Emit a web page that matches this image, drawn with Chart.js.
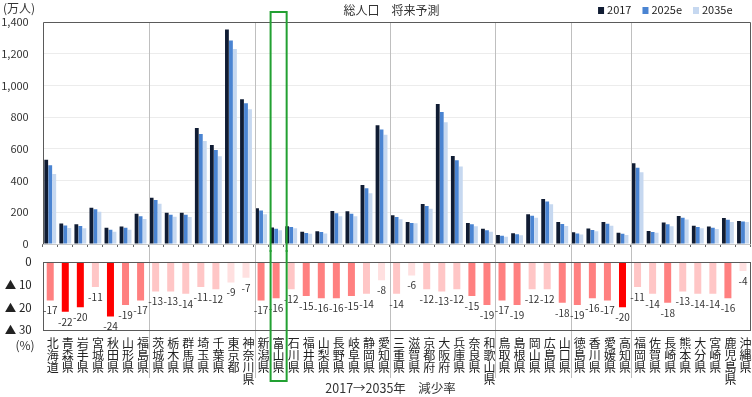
<!DOCTYPE html>
<html lang="ja">
<head>
<meta charset="UTF-8">
<title>総人口 将来予測</title>
<script src="https://cdn.jsdelivr.net/npm/chart.js"></script>
<style>
  body { margin: 0; background: #fff; }
  #wrap { position: relative; width: 752px; height: 397px; }
  #popChart { position: absolute; left: 0; top: 0; }
  #rateChart { position: absolute; left: 0; top: 250px; }
</style>
</head>
<body>
<div id="wrap">
  <canvas id="popChart" width="752" height="252"></canvas>
  <canvas id="rateChart" width="752" height="147"></canvas>
</div>
<script>
const prefectures = ['北海道','青森県','岩手県','宮城県','秋田県','山形県','福島県',
  '茨城県','栃木県','群馬県','埼玉県','千葉県','東京都','神奈川県',
  '新潟県','富山県','石川県','福井県','山梨県','長野県','岐阜県','静岡県','愛知県',
  '三重県','滋賀県','京都府','大阪府','兵庫県','奈良県','和歌山県',
  '鳥取県','島根県','岡山県','広島県','山口県',
  '徳島県','香川県','愛媛県','高知県',
  '福岡県','佐賀県','長崎県','熊本県','大分県','宮崎県','鹿児島県','沖縄県'];

// 総人口（万人）
const pop2017 = [532,130,125,228,102,111,190, 292,197,197,731,625,1352,913,
  225,104,112,77,80,208,206,372,749, 181,139,252,883,555,132,96,
  56,68,188,284,139, 74,97,138,71, 509,82,136,177,115,110,164,145];
const pop2025 = [497,117,114,219,90,102,175, 277,184,184,694,593,1283,888,
  212,96,107,70,75,194,190,351,722, 170,133,240,833,528,125,87,
  52,62,178,268,126, 66,89,127,64, 481,76,124,165,107,102,153,142];
const pop2035 = [442,101,100,203,78,90,158, 254,172,170,650,553,1230,849,
  187,87,99,65,67,175,175,320,689, 156,131,222,768,488,112,78,
  46,55,165,250,114, 60,81,115,56, 453,71,112,154,99,95,138,139];

// 2017→2035年 減少率（%）
const declineRate = [-17,-22,-20,-11,-24,-19,-17, -13,-13,-14,-11,-12,-9,-7,
  -17,-16,-12,-15,-16,-16,-15,-14,-8, -14,-6,-12,-13,-12,-15,-19,
  -17,-19,-12,-12,-18, -19,-16,-17,-20, -11,-14,-18,-13,-14,-14,-16,-4];

const yTicks = [0, 200, 400, 600, 800, 1000, 1200, 1400];
const rateTicks = [0, -10, -20, -30];

// last prefecture of each region, a separator line follows it
const regionEnds = ['福島県','神奈川県','愛知県','和歌山県','山口県','高知県'];
const highlight = '富山県';

const FONT = "'Noto Sans CJK JP', 'Noto Sans', sans-serif";

function rateColor(v) {
  if (v <= -20) return '#ff0000';
  if (v <= -15) return '#ff8080';
  if (v <= -11) return '#ffc6c6';
  return '#ffe0e0';
}

function drawSeparators(chart, y0, y1) {
  const { ctx, scales: { x } } = chart;
  ctx.save();
  ctx.strokeStyle = '#bfbfbf';
  ctx.lineWidth = 1;
  regionEnds.forEach(name => {
    const i = prefectures.indexOf(name);
    const px = Math.round((x.getPixelForValue(i) + x.getPixelForValue(i + 1)) / 2) + 1.5;
    ctx.beginPath();
    ctx.moveTo(px, y0);
    ctx.lineTo(px, y1);
    ctx.stroke();
  });
  ctx.restore();
}

function highlightEdges(chart) {
  const x = chart.scales.x;
  const i = prefectures.indexOf(highlight);
  const w = x.getPixelForValue(1) - x.getPixelForValue(0);
  const c = x.getPixelForValue(i) + 2.5;
  return [c - w / 2 - 0.5, c + w / 2 + 0.5];
}

const popDecor = {
  id: 'popDecor',
  afterDatasetsDraw(chart) {
    const { ctx, chartArea: a } = chart;
    drawSeparators(chart, a.top, chart.height);

    ctx.save();
    // frame
    ctx.lineWidth = 1;
    ctx.strokeStyle = '#c8c8c8';
    ctx.beginPath();
    ctx.moveTo(a.left, Math.round(a.bottom) + 0.5);
    ctx.lineTo(a.right, Math.round(a.bottom) + 0.5);
    ctx.stroke();
    ctx.strokeStyle = '#5a5a5a';
    ctx.beginPath();
    ctx.moveTo(Math.round(a.left) + 0.5, Math.round(a.bottom));
    ctx.lineTo(Math.round(a.left) + 0.5, Math.round(a.top) + 0.5);
    ctx.lineTo(Math.round(a.right) - 0.5, Math.round(a.top) + 0.5);
    ctx.lineTo(Math.round(a.right) - 0.5, Math.round(a.bottom));
    ctx.stroke();

    // unit
    ctx.fillStyle = '#333';
    ctx.font = '12px ' + FONT;
    ctx.textAlign = 'left';
    ctx.textBaseline = 'middle';
    ctx.fillText('(万人)', 3, 8);

    // title
    ctx.textAlign = 'center';
    ctx.fillText('総人口　将来予測', (a.left + a.right) / 2 - 5, 10);

    // legend
    ctx.font = '11px ' + FONT;
    const items = chart.data.datasets;
    const widths = items.map(d => 9 + ctx.measureText(d.label).width);
    const total = widths.reduce((s, w) => s + w, 0) + 11 * (items.length - 1);
    let lx = a.right - 18 - total;
    ctx.textAlign = 'left';
    items.forEach((d, k) => {
      ctx.fillStyle = d.backgroundColor;
      ctx.fillRect(lx, 7, 6, 7);
      ctx.fillStyle = '#222';
      ctx.fillText(d.label, lx + 9, 10);
      lx += widths[k] + 11;
    });

    // highlight box (upper part)
    const [hl, hr] = highlightEdges(chart);
    ctx.strokeStyle = '#22a032';
    ctx.lineWidth = 2;
    ctx.beginPath();
    ctx.moveTo(hl, chart.height);
    ctx.lineTo(hl, a.top - 10);
    ctx.lineTo(hr, a.top - 10);
    ctx.lineTo(hr, chart.height);
    ctx.stroke();
    ctx.restore();
  }
};

const rateDecor = {
  id: 'rateDecor',
  afterDatasetsDraw(chart) {
    const { ctx, chartArea: a, scales: { x } } = chart;
    drawSeparators(chart, 0, a.bottom + 48);

    ctx.save();
    ctx.strokeStyle = '#5a5a5a';
    ctx.lineWidth = 1;
    ctx.strokeRect(Math.round(a.left) + 0.5, Math.round(a.top) + 0.5,
      Math.round(a.right - a.left) - 1, Math.round(a.bottom - a.top));

    // value labels
    const meta = chart.getDatasetMeta(0);
    ctx.fillStyle = '#333';
    ctx.font = '10px ' + FONT;
    ctx.textAlign = 'center';
    ctx.textBaseline = 'top';
    meta.data.forEach((bar, i) => ctx.fillText(String(declineRate[i]), bar.x, bar.y + 5));

    // vertical category labels
    ctx.fillStyle = '#222';
    ctx.font = '12px ' + FONT;
    ctx.textBaseline = 'middle';
    prefectures.forEach((name, i) => {
      const cx = x.getPixelForValue(i) + 2.5;
      [...name].forEach((ch, k) => ctx.fillText(ch, cx, a.bottom + 13 + k * 12.3));
    });

    // unit and axis title
    ctx.fillStyle = '#333';
    ctx.fillText('(%)', 25, a.bottom + 15);
    ctx.font = '12.5px ' + FONT;
    ctx.fillText('2017→2035年　減少率', (a.left + a.right) / 2 - 6, chart.height - 9);

    // highlight box (lower part)
    const [hl, hr] = highlightEdges(chart);
    ctx.strokeStyle = '#22a032';
    ctx.lineWidth = 2;
    ctx.beginPath();
    ctx.moveTo(hl, 0);
    ctx.lineTo(hl, a.bottom + 51);
    ctx.lineTo(hr, a.bottom + 51);
    ctx.lineTo(hr, 0);
    ctx.stroke();
    ctx.restore();
  }
};

new Chart(document.getElementById('popChart'), {
  type: 'bar',
  data: {
    labels: prefectures,
    datasets: [
      { label: '2017', data: pop2017, backgroundColor: '#101c33' },
      { label: '2025e', data: pop2025, backgroundColor: '#4a84d2' },
      { label: '2035e', data: pop2035, backgroundColor: '#c6d8f0' }
    ]
  },
  options: {
    responsive: false,
    animation: false,
    layout: { padding: { top: 22, right: 1.5, left: 0, bottom: 0 } },
    datasets: { bar: { categoryPercentage: 0.8, barPercentage: 0.95 } },
    plugins: { legend: { display: false }, tooltip: { enabled: false } },
    scales: {
      x: {
        grid: { drawOnChartArea: false, offset: true, tickLength: 3, color: '#666' },
        border: { display: false },
        ticks: { display: false },
        afterFit(s) { s.height = 8; }
      },
      y: {
        min: 0, max: 1400,
        afterBuildTicks(s) { s.ticks = yTicks.map(v => ({ value: v })); },
        ticks: { padding: 0, color: '#333', font: { size: 11, family: FONT },
          callback: v => v.toLocaleString('en-US') },
        grid: { color: '#ececec', drawTicks: true, tickLength: 14, tickColor: 'rgba(0,0,0,0)' },
        border: { display: false },
        afterFit(s) { s.width = 42.7; }
      }
    }
  },
  plugins: [popDecor]
});

new Chart(document.getElementById('rateChart'), {
  type: 'bar',
  data: {
    labels: prefectures,
    datasets: [{ label: '減少率', data: declineRate, backgroundColor: declineRate.map(rateColor) }]
  },
  options: {
    responsive: false,
    animation: false,
    layout: { padding: { top: 12, right: 1.5, left: 0, bottom: 0 } },
    datasets: { bar: { categoryPercentage: 0.5, barPercentage: 0.93 } },
    plugins: { legend: { display: false }, tooltip: { enabled: false } },
    scales: {
      x: {
        grid: { display: false, drawTicks: false },
        border: { display: false },
        ticks: { display: false },
        afterFit(s) { s.height = 67; }
      },
      y: {
        min: -30, max: 0,
        afterBuildTicks(s) { s.ticks = rateTicks.map(v => ({ value: v })); },
        ticks: { padding: 0, color: '#222', font: { size: 11.5, family: FONT },
          callback: v => v === 0 ? '0' : '▲ ' + (-v) },
        grid: { display: true, drawOnChartArea: false, drawTicks: true, tickLength: 11,
          tickColor: 'rgba(0,0,0,0)' },
        border: { display: false },
        afterFit(s) { s.width = 42.7; }
      }
    }
  },
  plugins: [rateDecor]
});
</script>
</body>
</html>
